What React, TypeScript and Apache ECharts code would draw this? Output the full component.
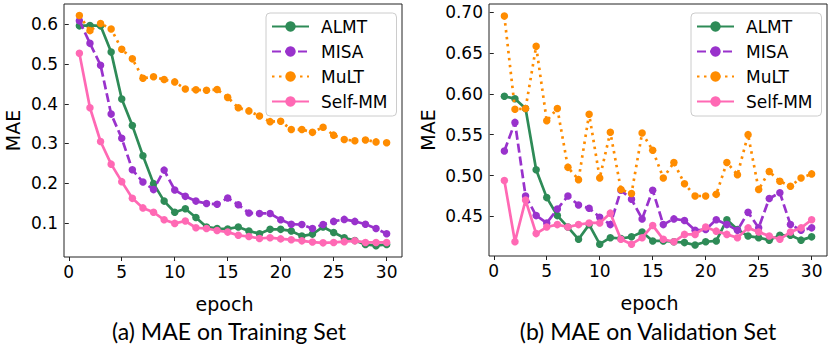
import React, { useEffect, useRef } from "react";
import * as echarts from "echarts";

const epochs: number[] = Array.from({ length: 30 }, (_, i) => i + 1);
const seriesNames = ["ALMT", "MISA", "MuLT", "Self-MM"];

// Training set MAE
const trainALMT = [0.596, 0.597, 0.596, 0.530, 0.412, 0.345, 0.269, 0.199, 0.155, 0.127, 0.136, 0.114, 0.090, 0.086, 0.085, 0.090, 0.080, 0.073, 0.084, 0.084, 0.080, 0.067, 0.072, 0.090, 0.076, 0.063, 0.056, 0.046, 0.043, 0.046];
const trainMISA = [0.609, 0.552, 0.497, 0.374, 0.313, 0.234, 0.203, 0.184, 0.233, 0.183, 0.167, 0.155, 0.149, 0.147, 0.163, 0.146, 0.125, 0.124, 0.124, 0.108, 0.097, 0.096, 0.086, 0.096, 0.104, 0.109, 0.104, 0.097, 0.086, 0.073];
const trainMuLT = [0.622, 0.584, 0.602, 0.588, 0.537, 0.513, 0.464, 0.468, 0.461, 0.455, 0.437, 0.435, 0.434, 0.436, 0.416, 0.390, 0.382, 0.369, 0.355, 0.356, 0.335, 0.335, 0.328, 0.341, 0.321, 0.310, 0.307, 0.309, 0.304, 0.302];
const trainSelfMM = [0.527, 0.390, 0.305, 0.248, 0.204, 0.162, 0.138, 0.127, 0.108, 0.099, 0.105, 0.088, 0.086, 0.081, 0.077, 0.069, 0.066, 0.061, 0.063, 0.060, 0.058, 0.055, 0.052, 0.050, 0.051, 0.053, 0.055, 0.051, 0.051, 0.051];

// Validation set MAE
const valALMT = [0.597, 0.594, 0.582, 0.507, 0.473, 0.451, 0.437, 0.422, 0.440, 0.416, 0.424, 0.423, 0.425, 0.431, 0.420, 0.420, 0.419, 0.418, 0.415, 0.419, 0.420, 0.446, 0.434, 0.426, 0.424, 0.421, 0.427, 0.427, 0.421, 0.425];
const valMISA = [0.530, 0.565, 0.475, 0.451, 0.442, 0.459, 0.475, 0.464, 0.460, 0.449, 0.440, 0.482, 0.471, 0.447, 0.482, 0.440, 0.447, 0.445, 0.433, 0.434, 0.446, 0.440, 0.433, 0.455, 0.436, 0.472, 0.479, 0.440, 0.433, 0.436];
const valMuLT = [0.695, 0.581, 0.582, 0.658, 0.567, 0.582, 0.510, 0.495, 0.575, 0.497, 0.553, 0.483, 0.478, 0.552, 0.531, 0.497, 0.516, 0.490, 0.475, 0.475, 0.477, 0.516, 0.501, 0.550, 0.483, 0.505, 0.493, 0.487, 0.497, 0.502];
const valSelfMM = [0.494, 0.419, 0.470, 0.429, 0.437, 0.440, 0.437, 0.440, 0.442, 0.442, 0.454, 0.422, 0.416, 0.424, 0.439, 0.422, 0.419, 0.428, 0.428, 0.437, 0.432, 0.428, 0.424, 0.436, 0.431, 0.426, 0.422, 0.431, 0.436, 0.446];

const xTicks = [0, 5, 10, 15, 20, 25, 30];
const yTicksTrain = [0.1, 0.2, 0.3, 0.4, 0.5, 0.6];
const yTicksVal = [0.45, 0.5, 0.55, 0.6, 0.65, 0.7];
const captions = ["(a) MAE on Training Set", "(b) MAE on Validation Set"];

const colors = ["#2e8b57", "#9932cc", "#ff8c00", "#ff69b4"];
const lineTypes: any[] = ["solid", [9, 4], [2.5, 4.5], "solid"];
const FONT = "'DejaVu Sans'";

export default function App() {
  const ref = useRef<HTMLDivElement>(null);
  useEffect(() => {
    if (!ref.current) return;
    const chart = echarts.init(ref.current, undefined, { renderer: "svg" });

    const mkSeries = (data: number[][], gi: number) =>
      data.map((vals, i) => ({
        name: seriesNames[i],
        type: "line",
        xAxisIndex: gi,
        yAxisIndex: gi,
        data: epochs.map((e, k) => [e, vals[k]]),
        symbol: "circle",
        symbolSize: 7.5,
        showSymbol: true,
        lineStyle: { color: colors[i], width: 2.7, type: lineTypes[i] },
        itemStyle: { color: colors[i] },
        z: 2 + i,
      }));

    const xAxisBase = (gi: number) => ({
      type: "value",
      gridIndex: gi,
      min: -0.45,
      max: 31.45,
      name: "epoch",
      nameLocation: "middle",
      nameGap: 37,
      nameTextStyle: { fontFamily: FONT, fontSize: 19, color: "#000", padding: [0, 17, 0, 0] },
      axisLine: { show: false },
      splitLine: { show: false },
      axisTick: { show: true, length: 4, lineStyle: { color: "#222", width: 1 }, customValues: xTicks },
      axisLabel: { fontFamily: FONT, fontSize: 17, color: "#000", margin: 6, customValues: xTicks },
    });

    const yAxisBase = (gi: number, min: number, max: number, ticks: number[], dec: number, gap: number) => ({
      type: "value",
      gridIndex: gi,
      min,
      max,
      name: "MAE",
      nameLocation: "middle",
      nameGap: gap,
      nameRotate: 90,
      nameTextStyle: { fontFamily: FONT, fontSize: 19, color: "#000" },
      axisLine: { show: false },
      splitLine: { show: false },
      axisTick: { show: true, length: 4, lineStyle: { color: "#222", width: 1 }, customValues: ticks },
      axisLabel: {
        fontFamily: FONT,
        fontSize: 17,
        color: "#000",
        margin: 6,
        customValues: ticks,
        formatter: (v: number) => v.toFixed(dec),
      },
    });

    const legendBase = (left: number, names: string[]) => ({
      data: names,
      orient: "vertical",
      left,
      top: 13,
      itemWidth: 37,
      itemHeight: 13,
      itemGap: 8,
      padding: [5, 9, 6, 5],
      backgroundColor: "rgba(255,255,255,0.85)",
      borderColor: "#cccccc",
      borderWidth: 1,
      borderRadius: 4,
      textStyle: { fontFamily: FONT, fontSize: 17, color: "#000", padding: [0, 0, 0, 7] },
    });

    chart.setOption({
      animation: false,
      backgroundColor: "#fff",
      grid: [
        { left: 64, top: 4, width: 338, height: 253, show: true, borderColor: "#222", borderWidth: 1, backgroundColor: "transparent" },
        { left: 489, top: 4, width: 338, height: 252, show: true, borderColor: "#222", borderWidth: 1, backgroundColor: "transparent" },
      ],
      xAxis: [xAxisBase(0), xAxisBase(1)],
      yAxis: [
        yAxisBase(0, 0.0144, 0.651, yTicksTrain, 1, 42),
        yAxisBase(1, 0.4016, 0.7098, yTicksVal, 2, 52),
      ],
      legend: [legendBase(266, seriesNames), legendBase(691, seriesNames)],
      series: [
        ...mkSeries([trainALMT, trainMISA, trainMuLT, trainSelfMM], 0),
        ...mkSeries([valALMT, valMISA, valMuLT, valSelfMM], 1),
      ],
      graphic: [
        {
          type: "text",
          x: 229,
          y: 331,
          style: { text: captions[0], font: "23px Lato", fill: "#000", textAlign: "center", textVerticalAlign: "middle" },
        },
        {
          type: "text",
          x: 648,
          y: 331,
          style: { text: captions[1], font: "23px Lato", fill: "#000", textAlign: "center", textVerticalAlign: "middle" },
        },
      ],
    });
    return () => chart.dispose();
  }, []);
  return <div ref={ref} style={{ position: "absolute", left: 0, top: 0, width: 830, height: 355 }} />;
}
